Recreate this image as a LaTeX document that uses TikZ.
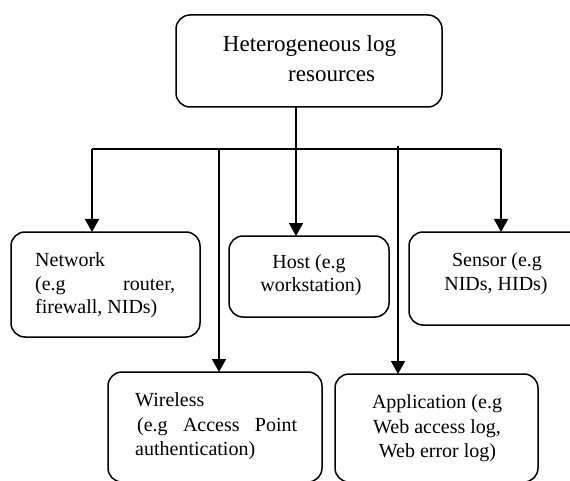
\documentclass[tikz,border=0pt]{standalone}
\usepackage{fontspec}
\setmainfont{Liberation Serif}
\usetikzlibrary{arrows.meta}
\tikzset{
  box/.style={draw, line width=1.5pt, rounded corners=14pt, inner sep=0pt, outer sep=0pt},
  txt/.style={inner sep=0pt, font=\fontsize{20}{24}\selectfont},
  toptxt/.style={inner sep=0pt, font=\fontsize{23}{28}\selectfont},
  conn/.style={line width=1.5pt},
  arr/.style={line width=1.5pt, -{Triangle[width=14pt,length=13pt]}}
}
\begin{document}
\begin{tikzpicture}[x=1pt,y=-1pt]
\useasboundingbox (0,0) rectangle (570,481);
% boxes
\node[box, minimum width=266pt, minimum height=92pt] (top) at (309,61) {};
\node[box, minimum width=189pt, minimum height=105pt] (net) at (105.5,284.5) {};
\node[box, minimum width=160pt, minimum height=81pt] (host) at (309,276.5) {};
\node[box, minimum width=176pt, minimum height=93pt] (sen) at (497,278.5) {};
\node[box, minimum width=214pt, minimum height=110pt] (wir) at (215,427) {};
\node[box, minimum width=203pt, minimum height=108pt] (app) at (436.5,428) {};
% texts
\node[toptxt, anchor=base] (t1) at (309.5,52) {Heterogeneous log};
\node[toptxt, anchor=base west] (t2) at (288,82) {resources};
\node[txt, anchor=base west] (n1) at (35,266) {Network};
\node[txt, anchor=base west] (n2) at (35,290) {\makebox[140pt][s]{(e.g router,}};
\node[txt, anchor=base west] (n3) at (35,313) {firewall, NIDs)};
\node[txt, anchor=base] (h1) at (309,268) {Host (e.g};
\node[txt, anchor=base] (h2) at (311,291) {workstation)};
\node[txt, anchor=base] (s1) at (497,266) {Sensor (e.g};
\node[txt, anchor=base] (s2) at (496,290) {NIDs, HIDs)};
\node[txt, anchor=base west] (w1) at (135,406) {Wireless};
\node[txt, anchor=base west] (w2) at (137,431) {\makebox[160pt][s]{(e.g Access Point}};
\node[txt, anchor=base west] (w3) at (135,455) {authentication)};
\node[txt, anchor=base] (a1) at (437,408) {Application (e.g};
\node[txt, anchor=base] (a2) at (437,433) {Web access log,};
\node[txt, anchor=base] (a3) at (437.5,457) {Web error log)};
% connectors
\coordinate (j) at (296,149);
\coordinate (hl) at (92,149);
\coordinate (hr) at (501,149);
\coordinate (w) at (219,149);
\coordinate (a) at (398,146);
\draw[conn] (top.south -| j) -- (j);
\draw[conn] (hl) -- (hr);
\draw[arr] (hl) -- (net.north -| hl);
\draw[arr] (j) -- (host.north -| j);
\draw[arr] (hr) -- (sen.north -| hr);
\draw[arr] (w) -- (wir.north -| w);
\draw[arr] (a) -- (app.north -| a);
\end{tikzpicture}
\end{document}
